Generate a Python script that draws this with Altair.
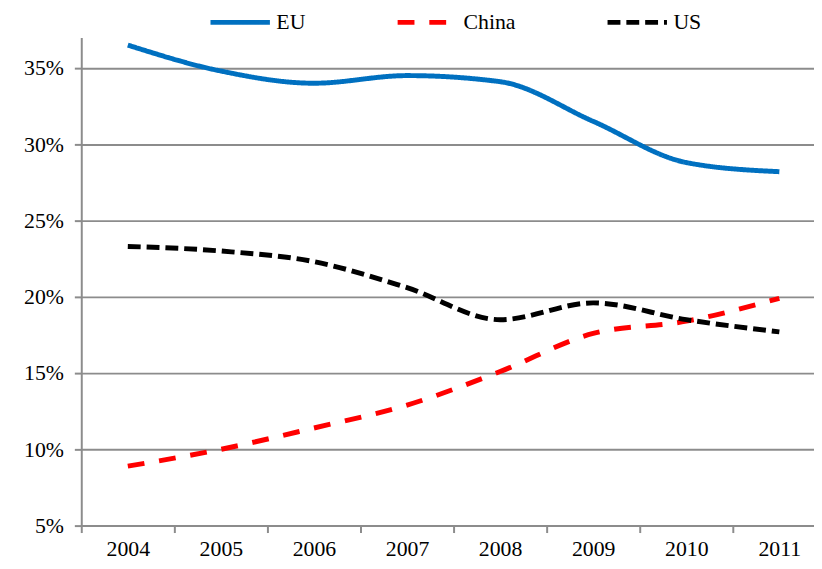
import altair as alt
import pandas as pd

years = ["2004", "2005", "2006", "2007", "2008", "2009", "2010", "2011"]
eu = [36.5, 34.8, 34.0, 34.5, 34.1, 31.5, 28.8, 28.2]
china = [8.9, 10.0, 11.4, 12.9, 15.1, 17.6, 18.4, 19.9]
us = [23.3, 23.0, 22.3, 20.6, 18.5, 19.6, 18.5, 17.7]

series_names = ["EU", "China", "US"]
series_colors = ["#0070C0", "#FF0000", "#000000"]
series_dash = [[1, 0], [17, 15], [13, 6]]
y_ticks = [5, 10, 15, 20, 25, 30, 35]

rows = []
for name, vals in zip(series_names, [eu, china, us]):
    for yr, v in zip(years, vals):
        rows.append({"year": yr, "share": v, "series": name})
df = pd.DataFrame(rows)

FONT = "Liberation Serif"
GRAY = "#8c8c8c"

legend_kw = dict(
    title=None,
    orient="none",
    direction="horizontal",
    legendX=128,
    legendY=-48,
    symbolSize=3600,
    symbolStrokeWidth=5,
    labelFont=FONT,
    labelFontSize=22,
    labelColor="#000000",
    labelOffset=4,
    columnPadding=82,
)

chart = alt.Chart(df).mark_line(strokeWidth=5, interpolate="monotone").encode(
    x=alt.X(
        "year:O",
        sort=years,
        scale=alt.Scale(type="band", paddingInner=0, paddingOuter=0, range=[0, 752]),
        axis=alt.Axis(
            title=None,
            labelAngle=0,
            tickBand="extent",
            grid=False,
            tickSize=7,
            labelPadding=6,
        ),
    ),
    y=alt.Y(
        "share:Q",
        scale=alt.Scale(domain=[5, 37], nice=False, zero=False),
        axis=alt.Axis(
            title=None,
            values=y_ticks,
            labelExpr="datum.value + '%'",
            grid=True,
            tickSize=7,
            labelPadding=11,
        ),
    ),
    color=alt.Color(
        "series:N",
        sort=series_names,
        scale=alt.Scale(domain=series_names, range=series_colors),
        legend=alt.Legend(**legend_kw),
    ),
    strokeDash=alt.StrokeDash(
        "series:N",
        sort=series_names,
        scale=alt.Scale(domain=series_names, range=series_dash),
        legend=alt.Legend(**legend_kw),
    ),
).properties(
    width=740,
    height=493,
    autosize=alt.AutoSizeParams(type="none"),
    padding={"left": 74, "top": 27, "right": 0, "bottom": 33},
).configure_view(
    stroke=None
).configure_axis(
    labelFont=FONT,
    labelFontSize=22,
    labelColor="#000000",
    domainColor=GRAY,
    domainWidth=2,
    tickColor=GRAY,
    tickWidth=2,
    gridColor=GRAY,
    gridWidth=2,
)

chart.save("out.html", embed_options={"renderer": "svg", "actions": False})
